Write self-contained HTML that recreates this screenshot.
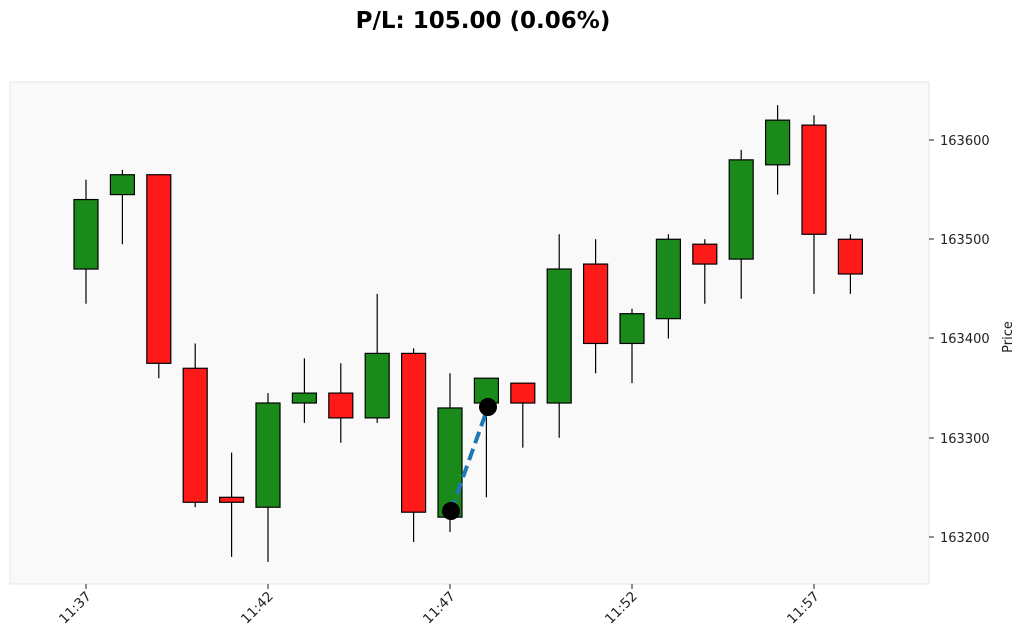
<!DOCTYPE html>
<html><head><meta charset="utf-8"><style>
body{margin:0;background:#fff;width:1024px;height:644px;overflow:hidden}
svg{display:block;font-family:"DejaVu Sans","Liberation Sans",sans-serif}
</style></head><body>
<svg id="s" width="1024" height="644" xmlns="http://www.w3.org/2000/svg">
<text x="483" y="28" text-anchor="middle" font-size="23" font-weight="bold">P/L: 105.00 (0.06%)</text>
<rect x="10" y="82" width="919" height="502" fill="#f9f9f9" stroke="#e6e6e6"/>
<g font-size="13" fill="#222">
<text x="940" y="145">163600</text>
<text x="940" y="244">163500</text>
<text x="940" y="343">163400</text>
<text x="940" y="443">163300</text>
<text x="940" y="542">163200</text>
<text transform="translate(1012,337) rotate(-90)" text-anchor="middle" font-size="13">Price</text>
</g>
<g stroke="#222">
<line x1="929" y1="140" x2="934" y2="140"/><line x1="929" y1="239" x2="934" y2="239"/>
<line x1="929" y1="338" x2="934" y2="338"/><line x1="929" y1="438" x2="934" y2="438"/>
<line x1="929" y1="537" x2="934" y2="537"/>
<line x1="86" y1="584" x2="86" y2="589"/><line x1="268" y1="584" x2="268" y2="589"/>
<line x1="450" y1="584" x2="450" y2="589"/><line x1="632" y1="584" x2="632" y2="589"/>
<line x1="814" y1="584" x2="814" y2="589"/>
</g>
<g font-size="13.5" fill="#222" text-anchor="end">
<text transform="translate(92,597) rotate(-45)">11:37</text>
<text transform="translate(274,597) rotate(-45)">11:42</text>
<text transform="translate(456,597) rotate(-45)">11:47</text>
<text transform="translate(638,597) rotate(-45)">11:52</text>
<text transform="translate(820,597) rotate(-45)">11:57</text>
</g>
<g id="c"></g>
<line x1="451" y1="511" x2="488" y2="407" stroke="#1f77b4" stroke-width="4" stroke-dasharray="12,6"/>
<circle cx="451" cy="511" r="9" fill="#000"/>
<circle cx="488" cy="407" r="9" fill="#000"/>
</svg>
<script>
var d=[[470,540,560,435],[545,565,570,495],[565,375,565,360],[370,235,395,230],[240,235,285,180],[230,335,345,175],[335,345,380,315],[345,320,375,295],[320,385,445,315],[385,225,390,195],[220,330,365,205],[335,360,360,240],[355,335,355,290],[335,470,505,300],[475,395,500,365],[395,425,430,355],[420,500,505,400],[495,475,500,435],[480,580,590,440],[575,620,635,545],[615,505,625,445],[500,465,505,445]];
function Y(v){return 537-(v-200)*0.9925}
var h='';d.forEach(function(c,i){var x=86+i*36.4,o=c[0],cl=c[1],col=cl>=o?'#1a8a1a':'#ff1a1a';
h+='<line x1="'+x+'" x2="'+x+'" y1="'+Y(c[2])+'" y2="'+Y(c[3])+'" stroke="#000" stroke-width="1.2"/>';
var t=Y(Math.max(o,cl)),b=Y(Math.min(o,cl));
h+='<rect x="'+(x-12)+'" y="'+t+'" width="24" height="'+Math.max(b-t,1)+'" fill="'+col+'" stroke="#000" stroke-width="1.2"/>';});
document.getElementById('c').innerHTML=h;
</script>
</body></html>
